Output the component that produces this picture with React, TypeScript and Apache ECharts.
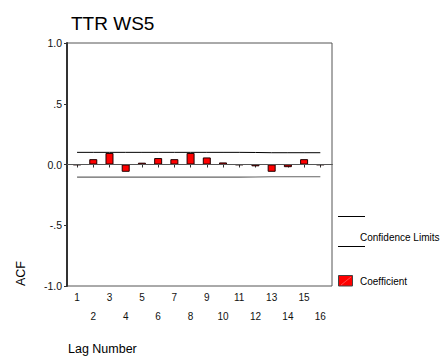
import React, { useEffect, useRef } from "react";
import * as echarts from "echarts";

const lags = [1, 2, 3, 4, 5, 6, 7, 8, 9, 10, 11, 12, 13, 14, 15, 16];
const coefficients = [-0.004, 0.044, 0.095, -0.06, 0.015, 0.053, 0.044, 0.095, 0.058, 0.017, -0.004, -0.015, -0.06, -0.022, 0.044, -0.004];
const upperLimit = [0.1, 0.1, 0.1, 0.1, 0.1, 0.1, 0.1, 0.1, 0.1, 0.1, 0.1, 0.099, 0.097, 0.097, 0.097, 0.097];
const lowerLimit = [-0.104, -0.104, -0.104, -0.104, -0.104, -0.104, -0.104, -0.104, -0.104, -0.104, -0.104, -0.103, -0.101, -0.101, -0.101, -0.101];
const yTickLabels: Record<string, string> = { "1": "1.0", "0.5": ".5", "0": "0.0", "-0.5": "-.5", "-1": "-1.0" };

const FONT = "'Liberation Sans', Arial, sans-serif";

export default function App() {
  const ref = useRef<HTMLDivElement>(null);
  useEffect(() => {
    if (!ref.current) return;
    const chart = echarts.init(ref.current, null, { renderer: "svg" });
    chart.setOption({
      animation: false,
      backgroundColor: "#fff",
      textStyle: { fontFamily: FONT },
      title: {
        text: "TTR WS5",
        left: 66,
        top: 9,
        textStyle: { fontFamily: FONT, fontSize: 19, fontWeight: "normal", color: "#000" },
      },
      grid: {
        left: 67,
        right: 108,
        top: 43,
        bottom: 72,
        show: true,
        borderColor: "#555",
        borderWidth: 1,
      },
      xAxis: {
        type: "value",
        min: 0.38,
        max: 16.72,
        splitLine: { show: false },
        axisLine: { show: true, lineStyle: { color: "#000", width: 1 } },
        axisTick: { show: true, length: 3, customValues: lags, lineStyle: { color: "#333" } },
        axisLabel: {
          customValues: lags,
          margin: 2,
          fontSize: 10,
          lineHeight: 19,
          color: "#111",
          fontFamily: FONT,
          formatter: (v: number) => (v % 2 === 0 ? "\n" + v : String(v)),
        },
      },
      yAxis: {
        type: "value",
        min: -1,
        max: 1,
        interval: 0.5,
        name: "ACF",
        nameLocation: "start",
        nameRotate: 90,
        nameGap: 0,
        nameTextStyle: { fontFamily: FONT, fontSize: 12.5, color: "#000", padding: [0, 0, 40, 0], align: "left", verticalAlign: "bottom" },
        splitLine: { show: false },
        axisLine: { show: true, lineStyle: { color: "#333", width: 2 } },
        axisTick: { show: true, length: 3, lineStyle: { color: "#333" } },
        axisLabel: {
          margin: 5,
          fontSize: 10.5,
          color: "#111",
          fontFamily: FONT,
          formatter: (v: number) => yTickLabels[String(v)] ?? String(v),
        },
      },
      series: [
        {
          type: "bar",
          name: "Coefficient",
          barWidth: 8,
          data: lags.map((l, i) => [l, coefficients[i]]),
          itemStyle: { color: "#ff0000", borderColor: "#200000", borderWidth: 1 },
          markLine: {
            silent: true,
            symbol: "none",
            label: { show: false },
            lineStyle: { color: "#555", type: "solid", width: 1 },
            data: [{ yAxis: 0 }],
          },
          z: 3,
        },
        {
          type: "line",
          name: "Confidence Limits",
          data: lags.map((l, i) => [l, upperLimit[i]]),
          showSymbol: false,
          symbol: "none",
          lineStyle: { color: "#000", width: 1 },
          z: 4,
        },
        {
          type: "line",
          name: "Confidence Limits Lower",
          data: lags.map((l, i) => [l, lowerLimit[i]]),
          showSymbol: false,
          symbol: "none",
          lineStyle: { color: "#666", width: 1.2 },
          z: 4,
        },
      ],
      graphic: [
        { type: "line", shape: { x1: 338, y1: 216.5, x2: 365, y2: 216.5 }, style: { stroke: "#000", lineWidth: 1 } },
        { type: "line", shape: { x1: 338, y1: 246.5, x2: 365, y2: 246.5 }, style: { stroke: "#000", lineWidth: 1 } },
        {
          type: "text",
          x: 360,
          y: 237,
          style: { text: "Confidence Limits", fontFamily: FONT, fontSize: 10, fill: "#000", verticalAlign: "middle" },
        },
        { type: "rect", shape: { x: 338.5, y: 275.5, width: 14, height: 10.5 }, style: { fill: "#ff0000", stroke: "#444", lineWidth: 1 } },
        { type: "line", shape: { x1: 341, y1: 285, x2: 351, y2: 277 }, style: { stroke: "#ff8080", lineWidth: 0.6 } },
        {
          type: "text",
          x: 360,
          y: 281,
          style: { text: "Coefficient", fontFamily: FONT, fontSize: 10, fill: "#000", verticalAlign: "middle" },
        },
        {
          type: "text",
          x: 68,
          y: 349,
          style: { text: "Lag Number", fontFamily: FONT, fontSize: 12.5, fill: "#000", verticalAlign: "middle" },
        },
      ],
    });
    return () => chart.dispose();
  }, []);
  return <div ref={ref} style={{ width: 440, height: 358, position: "absolute", left: 0, top: 0 }} />;
}
